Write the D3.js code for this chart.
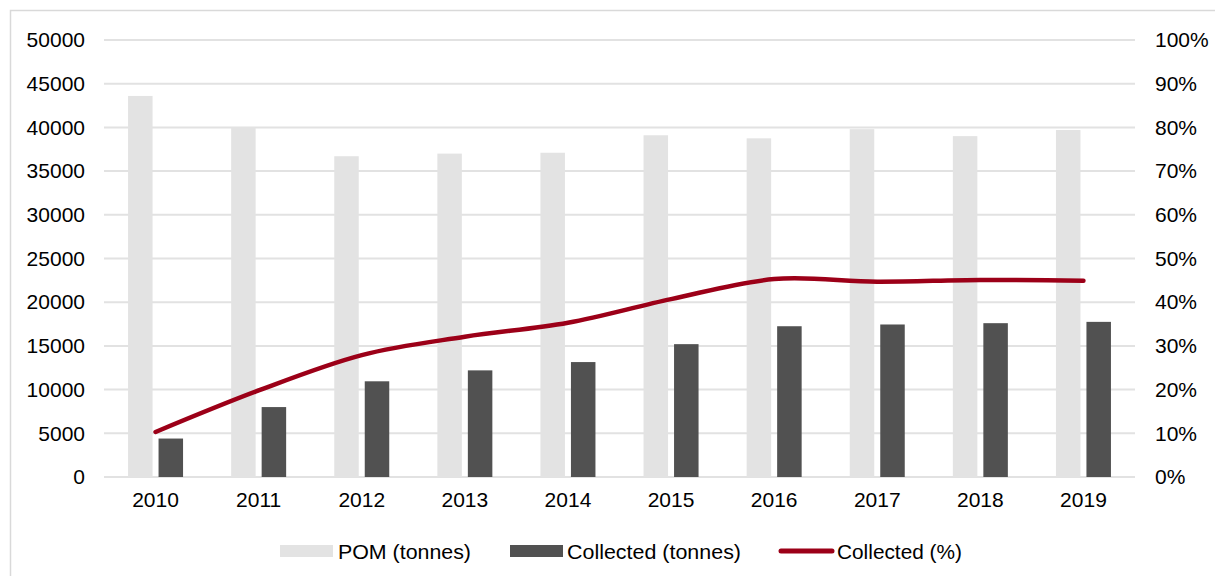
<!DOCTYPE html>
<html>
<head>
<meta charset="utf-8">
<title>POM vs Collected</title>
<script src="https://cdn.jsdelivr.net/npm/d3@7"></script>
<style>
  body { margin: 0; background: #fff; }
  text { font-family: "Liberation Sans", Arial, sans-serif; fill: #000; }
</style>
</head>
<body>
<svg id="chart" width="1215" height="576"></svg>
<script>
// data
var years = ["2010","2011","2012","2013","2014","2015","2016","2017","2018","2019"];
var pomTonnes = [43600, 40000, 36700, 37000, 37100, 39100, 38750, 39800, 39000, 39700];
var collectedTonnes = [4400, 8000, 10950, 12200, 13150, 15200, 17250, 17450, 17600, 17750];
var collectedPct = [10.3, 19.8, 27.9, 32.1, 35.3, 40.7, 45.3, 44.7, 45.1, 44.9];
var leftTicks = [0,5000,10000,15000,20000,25000,30000,35000,40000,45000,50000];
var rightTicks = [0,10,20,30,40,50,60,70,80,90,100];
var seriesNames = ["POM (tonnes)", "Collected (tonnes)", "Collected (%)"];

var svg = d3.select("#chart");
var margin = {top: 40, left: 104, right: 80, bottom: 99};
var width = 1135 - margin.left,
    height = 477 - margin.top;

// outer chart border
svg.append("rect")
    .attr("x", 10.5).attr("y", 10.5)
    .attr("width", 1300).attr("height", 700)
    .attr("fill", "none")
    .attr("stroke", "#d9d9d9")
    .attr("stroke-width", 1.5);

var g = svg.append("g").attr("transform", "translate(" + margin.left + "," + margin.top + ")");

var x = d3.scaleBand().domain(years).range([0, width]);
var y = d3.scaleLinear().domain([0, 50000]).range([height, 0]);
var y2 = d3.scaleLinear().domain([0, 100]).range([height, 0]);

// gridlines
g.selectAll(".grid").data(leftTicks).enter().append("line")
    .attr("x1", 0).attr("x2", width)
    .attr("y1", function(d) { return y(d); })
    .attr("y2", function(d) { return y(d); })
    .attr("stroke", "#e2e2e2")
    .attr("stroke-width", 2);

// left axis
var yAxis = g.append("g").call(d3.axisLeft(y).tickValues(leftTicks).tickSize(0).tickPadding(19)
    .tickFormat(d3.format("d")));
yAxis.select(".domain").remove();
yAxis.selectAll("text").style("font-size", "21px").attr("fill", "#000");

// right axis
var yAxis2 = g.append("g").attr("transform", "translate(" + width + ",0)")
    .call(d3.axisRight(y2).tickValues(rightTicks).tickSize(0).tickPadding(20)
        .tickFormat(function(d) { return d + "%"; }));
yAxis2.select(".domain").remove();
yAxis2.selectAll("text").style("font-size", "21px").attr("fill", "#000");

// x axis
var xAxis = g.append("g").attr("transform", "translate(0," + height + ")")
    .call(d3.axisBottom(x).tickSize(0).tickPadding(15));
xAxis.select(".domain").remove();
xAxis.selectAll("text").style("font-size", "21px").attr("fill", "#000");

var barW = 24.5, gap = 6;

// POM bars
g.selectAll(".pom").data(pomTonnes).enter().append("rect")
    .attr("x", function(d, i) { return x(years[i]) + x.bandwidth() / 2 - gap / 2 - barW; })
    .attr("y", function(d) { return y(d); })
    .attr("width", barW)
    .attr("height", function(d) { return height - y(d); })
    .attr("fill", "#e3e3e3");

// collected bars
g.selectAll(".col").data(collectedTonnes).enter().append("rect")
    .attr("x", function(d, i) { return x(years[i]) + x.bandwidth() / 2 + gap / 2; })
    .attr("y", function(d) { return y(d); })
    .attr("width", barW)
    .attr("height", function(d) { return height - y(d); })
    .attr("fill", "#515151");

// collected % line
var line = d3.line()
    .curve(d3.curveCatmullRom.alpha(0))
    .x(function(d, i) { return x(years[i]) + x.bandwidth() / 2; })
    .y(function(d) { return y2(d); });

g.append("path")
    .datum(collectedPct)
    .attr("d", line)
    .attr("fill", "none")
    .attr("stroke", "#9c0018")
    .attr("stroke-width", 4.5)
    .attr("stroke-linecap", "round");

// legend
var legend = svg.append("g").attr("transform", "translate(0,551)");
var legendItems = [
  {type: "rect", color: "#e3e3e3", x: 280, tx: 338, tw: 133},
  {type: "rect", color: "#515151", x: 510, tx: 567, tw: 174},
  {type: "line", color: "#9c0018", x: 779, tx: 837, tw: 125}
];
legendItems.forEach(function(it, i) {
  if (it.type == "rect") {
    legend.append("rect").attr("x", it.x).attr("y", -6).attr("width", 53).attr("height", 12).attr("fill", it.color);
  } else {
    legend.append("line").attr("x1", it.x + 2).attr("x2", it.x + 53).attr("y1", 0).attr("y2", 0)
        .attr("stroke", it.color).attr("stroke-width", 5).attr("stroke-linecap", "round");
  }
  legend.append("text")
      .attr("x", it.tx).attr("y", 7.5)
      .attr("textLength", it.tw)
      .attr("lengthAdjust", "spacingAndGlyphs")
      .style("font-size", "21px")
      .text(seriesNames[i]);
});
</script>
</body>
</html>
